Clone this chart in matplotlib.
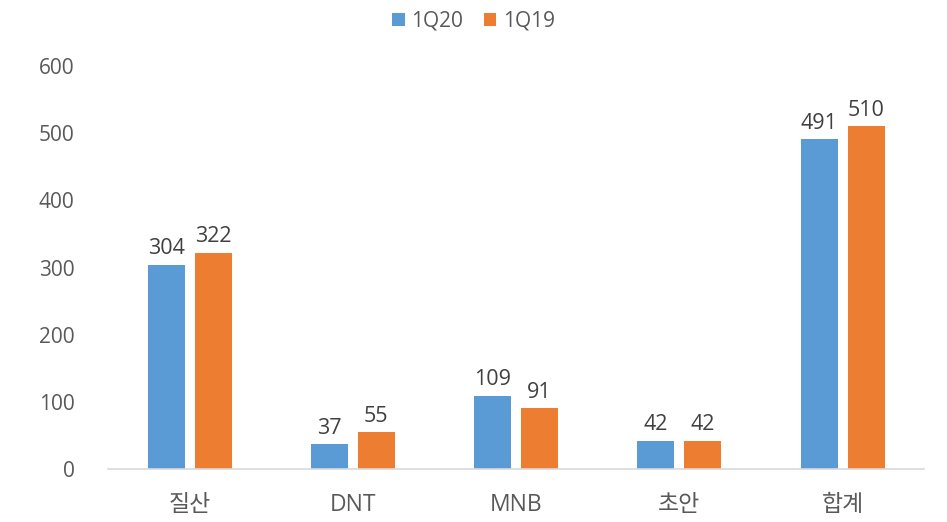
import numpy as np
import matplotlib
matplotlib.use("Agg")
import matplotlib.pyplot as plt

plt.rcParams['font.family'] = ['Open Sans', 'Noto Sans CJK KR', 'DejaVu Sans']

# data
categories = ["질산", "DNT", "MNB", "초안", "합계"]
q20 = [304, 37, 109, 42, 491]
q19 = [322, 55, 91, 42, 510]
series_names = ["1Q20", "1Q19"]
yticks = [0, 100, 200, 300, 400, 500, 600]

blue = "#5B9BD5"
orange = "#ED7D31"
gray = "#595959"

fig = plt.figure(figsize=(9.47, 5.22), dpi=100)
ax = fig.add_axes([0.114, 0.1015, 0.862, 0.772])

x = np.arange(len(categories))
w = 0.227
off = 0.144
b1 = ax.bar(x - off, q20, w, color=blue, label=series_names[0])
b2 = ax.bar(x + off, q19, w, color=orange, label=series_names[1])

for bars, vals in ((b1, q20), (b2, q19)):
    for r, v in zip(bars, vals):
        ax.text(r.get_x() + r.get_width() / 2, v + 8, str(v), ha="center", va="bottom",
                fontsize=15.5, color="#404040")

ax.set_xlim(-0.5, len(categories) - 0.5)
ax.set_ylim(0, 600)
ax.set_yticks(yticks)
ax.set_xticks(x)
ax.set_xticklabels(categories)
ax.tick_params(axis="both", length=0, labelsize=15, colors=gray)
ax.tick_params(axis="x", pad=17, labelsize=16.5)
ax.tick_params(axis="y", pad=24)
for s in ["top", "right", "left"]:
    ax.spines[s].set_visible(False)
ax.spines["bottom"].set_color("#D9D9D9")
ax.spines["bottom"].set_linewidth(1.2)

fig.legend(loc="upper center", bbox_to_anchor=(0.5, 1.015), ncol=2, frameon=False,
           fontsize=15, labelcolor=gray, handlelength=0.6, handleheight=0.6,
           handletextpad=0.3, columnspacing=1.0)

fig.savefig("out.png", dpi=100)
